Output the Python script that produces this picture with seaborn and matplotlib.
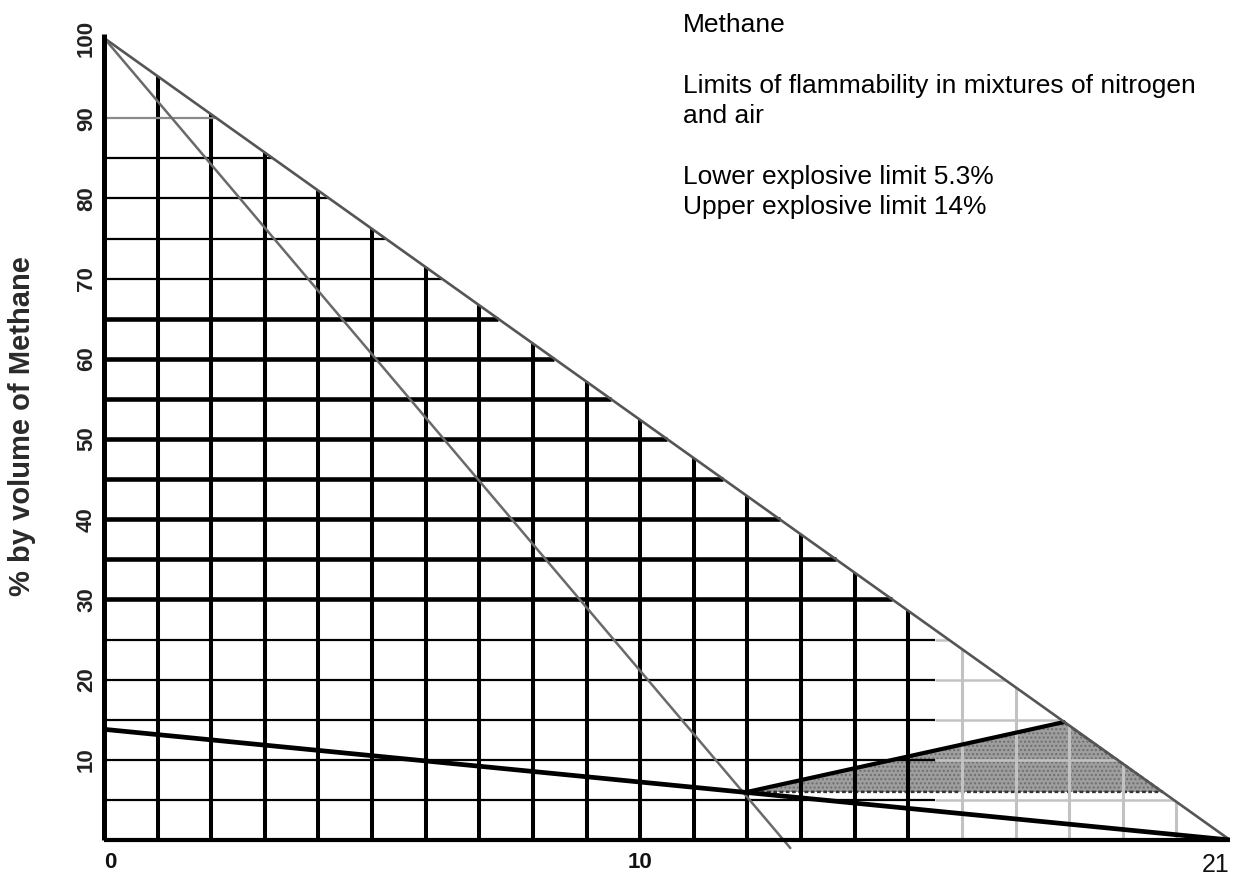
import numpy as np
import pandas as pd
import matplotlib
matplotlib.use("Agg")
import matplotlib.pyplot as plt
import seaborn as sns

# ---------------- data ----------------
# x: % oxygen, y: % by volume of methane
oxygen_ticks = [0, 10, 21]
oxygen_tick_labels = ["0", "10", "21"]
methane_ticks = [10, 20, 30, 40, 50, 60, 70, 80, 90, 100]
methane_tick_labels = ["10", "20", "30", "40", "50", "60", "70", "80", "90", "100"]

grid_oxygen = [1, 2, 3, 4, 5, 6, 7, 8, 9, 10, 11, 12, 13, 14, 15, 16, 17, 18, 19, 20]
grid_methane = [5, 10, 15, 20, 25, 30, 35, 40, 45, 50, 55, 60, 65, 70, 75, 80, 85, 90]
thick_methane = [30, 35, 40, 45, 50, 55, 60, 65]

# methane + air line (hypotenuse)
air_oxygen = [0, 21]
air_methane = [100, 0]
# diagonal line from the methane apex
diag_oxygen = [0, 12.8]
diag_methane = [100, -1.0]
# lower boundary line
low_oxygen = [0, 21]
low_methane = [13.8, 0]
# flammable region
flam_oxygen = [12.0, 17.9, 19.74]
flam_methane = [6.0, 14.7, 6.0]

title_lines = ["Methane",
               "Limits of flammability in mixtures of nitrogen",
               "and air",
               "Lower explosive limit 5.3%",
               "Upper explosive limit 14%"]

# ---------------- figure ----------------
sns.set_theme(style="white")
plt.rcParams["font.family"] = ["Liberation Sans", "DejaVu Sans"]

W, H = 1242, 882
fig = plt.figure(figsize=(W / 100, H / 100), dpi=100)
fig.patch.set_facecolor("white")
x0p, x1p, y0p, y1p = 104, 1230, 840, 38
ax = fig.add_axes([x0p / W, 1 - y0p / H, (x1p - x0p) / W, (y0p - y1p) / H])
ax.set_xlim(0, 21)
ax.set_ylim(0, 100)
for s in ax.spines.values():
    s.set_visible(False)
ax.set_facecolor("white")


def hyp_methane(o2):
    return np.interp(o2, air_oxygen, air_methane)


def hyp_oxygen(ch4):
    return np.interp(ch4, air_methane[::-1], air_oxygen[::-1])


# flammable region
ax.fill(flam_oxygen, flam_methane, facecolor="#9e9e9e", edgecolor="#6e6e6e",
        hatch="....", lw=0, zorder=1)
ax.plot(flam_oxygen[1:] + [flam_oxygen[0]], flam_methane[1:] + [flam_methane[0]],
        color="#333333", lw=1.8, ls=(0, (1.5, 1)), zorder=2)
ax.plot(flam_oxygen[:2], flam_methane[:2], color="black", lw=3.0, zorder=4)

# vertical grid lines
for o in grid_oxygen:
    top = hyp_methane(o)
    if o <= 15:
        ax.plot([o, o], [0, top], color="black", lw=2.9, zorder=3,
                solid_capstyle="butt", clip_on=False)
    else:
        ax.plot([o, o], [0, top], color="#c2c2c2", lw=2.2, zorder=2,
                solid_capstyle="butt")

# horizontal grid lines
for m in grid_methane:
    end = hyp_oxygen(m)
    if m in thick_methane:
        ax.plot([0, end], [m, m], color="black", lw=3.3, zorder=3, solid_capstyle="butt")
    elif m == 90:
        ax.plot([0, end], [m, m], color="#8a8a8a", lw=1.6, zorder=3, solid_capstyle="butt")
    elif m <= 25:
        ax.plot([0, min(15.5, end)], [m, m], color="black", lw=1.6, zorder=3,
                solid_capstyle="butt")
        if end > 15.5:
            ax.plot([15.5, end], [m, m], color="#c2c2c2", lw=1.8, zorder=2,
                    solid_capstyle="butt")
    else:
        ax.plot([0, end], [m, m], color="black", lw=1.6, zorder=3, solid_capstyle="butt")

# main lines
sns.lineplot(x=air_oxygen, y=air_methane, ax=ax, color="#555555", lw=1.9,
             sort=False, estimator=None, zorder=5)
sns.lineplot(x=diag_oxygen, y=diag_methane, ax=ax, color="#6a6a6a", lw=1.8,
             sort=False, estimator=None, zorder=5).lines[-1].set_clip_on(False)
sns.lineplot(x=low_oxygen, y=low_methane, ax=ax, color="black", lw=3.4,
             sort=False, estimator=None, zorder=6)

# axis lines
ax.plot([0, 0], [0, 100.5], color="black", lw=3.6, zorder=7, clip_on=False,
        solid_capstyle="butt")
ax.plot([0, 21], [0, 0], color="black", lw=3.0, zorder=7, clip_on=False,
        solid_capstyle="butt")

# ticks
ax.set_yticks(methane_ticks)
ax.set_yticklabels(methane_tick_labels, rotation=90, fontsize=16, fontweight="bold",
                   color="#222222", va="center")
ax.set_xticks(oxygen_ticks)
ax.set_xticklabels(oxygen_tick_labels, fontsize=16, fontweight="bold", color="#111111")
ax.tick_params(axis="y", length=0, pad=5)
ax.tick_params(axis="x", length=0, pad=9)
lbls = ax.get_xticklabels()
lbls[-1].set_fontweight("normal")
lbls[-1].set_family(["Liberation Sans Narrow", "Liberation Sans", "DejaVu Sans"])
lbls[-1].set_fontsize(18)
lbls[-1].set_ha("right")
lbls[0].set_ha("left")

ax.set_xlabel("")
ax.set_ylabel("")

# y label
fig.text(22 / W, 1 - 426 / H, "% by volume of Methane", rotation=90, ha="center",
         va="center", fontsize=21, fontweight="bold", color="#2a2a2a")

# title block
baselines = [32, 93, 123, 184, 214]
for t, b in zip(title_lines, baselines):
    fig.text(683 / W, 1 - b / H, t, ha="left", va="baseline", fontsize=19,
             color="black")

fig.savefig("out.png", dpi=100, facecolor="white")
